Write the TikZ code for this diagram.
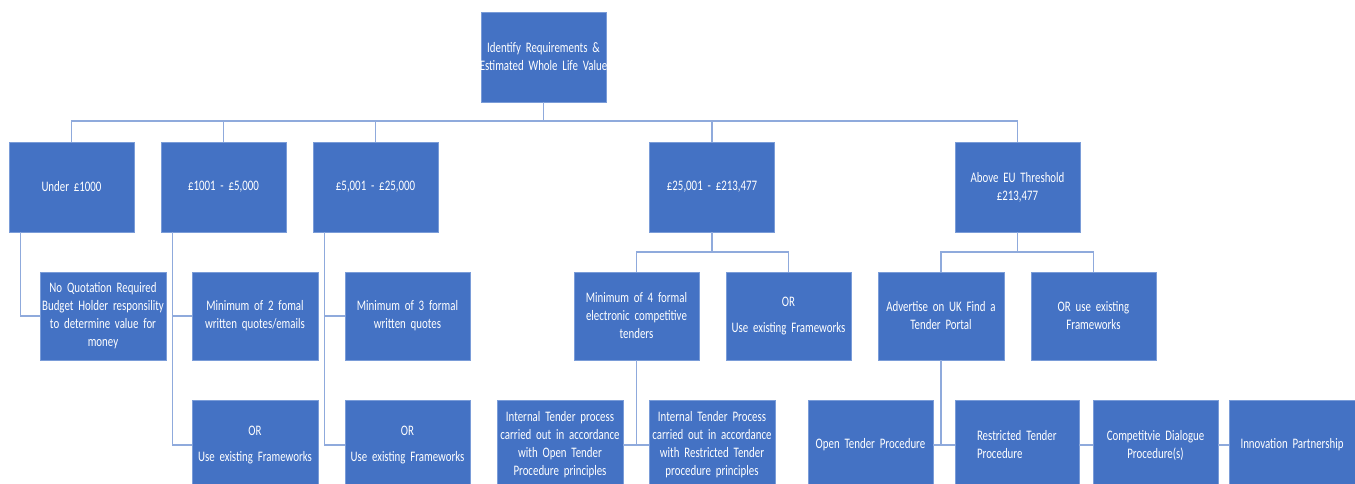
\documentclass[tikz,border=0pt]{standalone}
\usepackage{fontspec}
\setmainfont[FakeStretch=0.75, WordSpace={0.6,0.6,0.6}]{Carlito}
\usepackage{tikz}
\usetikzlibrary{calc}
\definecolor{bleu}{HTML}{4472C4}
\definecolor{bord}{HTML}{7A9CD8}
\definecolor{trait}{HTML}{8FAADC}
\tikzstyle{boite} = [rectangle, fill=bleu, draw=bord, line width=0.5pt, minimum width=125pt, minimum height=90pt, text width=124pt, align=center, text=white, font=\fontsize{14.5}{18}\selectfont, inner sep=0pt]
\tikzstyle{ligne} = [draw=trait, line width=1.1pt]

\begin{document}
\begin{tikzpicture}[x=1pt, y=-1pt]

        \clip (0,0) rectangle (1355,484);

        \node (top) [boite] at (543.5,57) {Identify Requirements \&\\\makebox[124pt]{Estimated Whole Life Value}};

        \node (under) [boite] at (71.5,187) {Under £1000};
        \node (low)   [boite] at (223.5,187) {£1001 - £5,000};
        \node (mid)   [boite] at (375.5,187) {£5,001 - £25,000};
        \node (high)  [boite] at (712,187) {£25,001 - £213,477};
        \node (eu)    [boite] at (1017.5,187) {Above EU Threshold\\£213,477};

        \node (noquote) [boite, minimum width=126pt, minimum height=88pt] at (103,316) {No Quotation Required\\Budget Holder responsility\\to determine value for\\money};
        \node (min2)    [boite, minimum width=126pt, minimum height=88pt] at (255,316) {Minimum of 2 fomal\\written quotes/emails};
        \node (min3)    [boite, minimum height=88pt] at (407.5,316) {Minimum of 3 formal\\written quotes};
        \node (min4)    [boite, minimum height=88pt] at (636.5,316) {Minimum of 4 formal\\electronic competitive\\tenders};
        \node (ormid)   [boite, minimum height=88pt] at (788.5,316) {OR\\[8pt]Use existing Frameworks};
        \node (advert)  [boite, minimum width=126pt, minimum height=88pt] at (941,316) {Advertise on UK Find a\\Tender Portal};
        \node (oreu)    [boite, minimum height=88pt] at (1093.5,316) {OR use existing\\Frameworks};

        \node (orlow)  [boite, minimum width=126pt] at (255,445) {OR\\[8pt]Use existing Frameworks};
        \node (ormid3) [boite] at (407.5,445) {OR\\[8pt]Use existing Frameworks};
        \node (intopen)  [boite, minimum width=126pt] at (560,445) {Internal Tender process\\carried out in accordance\\with Open Tender\\Procedure principles};
        \node (intrestr) [boite, minimum width=126pt] at (712,445) {Internal Tender Process\\carried out in accordance\\with Restricted Tender\\procedure principles};
        \node (open)   [boite] at (870.5,445) {Open Tender Procedure};
        \node (restr)  [boite, minimum width=124pt, text width=80pt, align=left] at (1017,445) {Restricted Tender\\Procedure};
        \node (comp)   [boite] at (1155.5,445) {Competitvie Dialogue\\Procedure(s)};
        \node (innov)  [boite, minimum width=126pt] at (1292,445) {Innovation Partnership};

        \coordinate (bus) at (543.5,121);
        \coordinate (highbus) at (712,252);
        \coordinate (eubus) at (1017.5,252);

        \draw [ligne] (top.south) -- (bus);
        \foreach \n in {under, low, mid, high, eu}
            \draw [ligne] (\n.north) |- (bus);

        \draw [ligne] ($(under.south west) + (12,0)$) |- (noquote.west);
        \draw [ligne] ($(low.south west) + (12,0)$) |- (min2.west);
        \draw [ligne] ($(low.south west) + (12,0)$) |- (orlow.west);
        \draw [ligne] ($(mid.south west) + (12,0)$) |- (min3.west);
        \draw [ligne] ($(mid.south west) + (12,0)$) |- (ormid3.west);

        \draw [ligne] (high.south) -- (highbus);
        \draw [ligne] (min4.north) |- (highbus) -| (ormid.north);
        \draw [ligne] (min4.south) |- (intopen.east);
        \draw [ligne] (min4.south) |- (intrestr.west);

        \draw [ligne] (eu.south) -- (eubus);
        \draw [ligne] (advert.north) |- (eubus) -| (oreu.north);
        \draw [ligne] (advert.south) |- (open.east);
        \draw [ligne] (advert.south) |- (restr.west);
        \draw [ligne] (restr.east) -- (comp.west);
        \draw [ligne] (comp.east) -- (innov.west);

    \end{tikzpicture}
\end{document}
